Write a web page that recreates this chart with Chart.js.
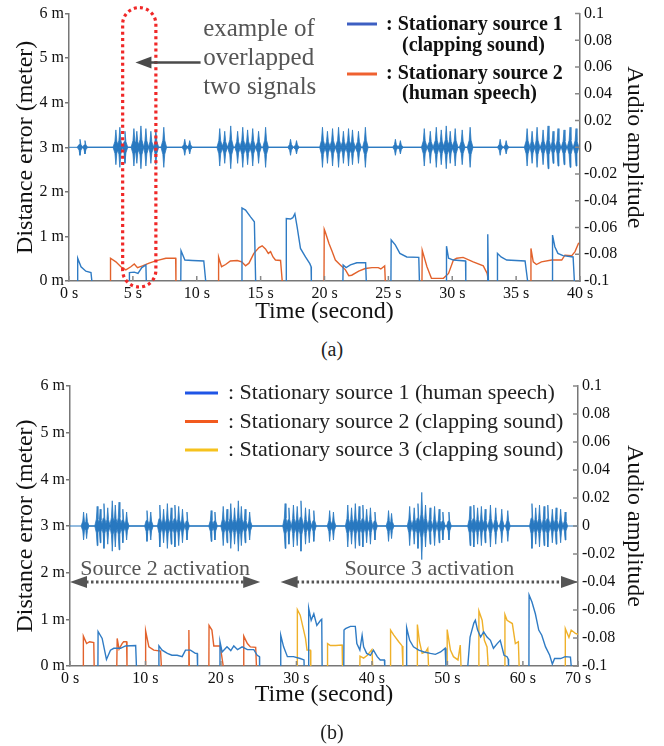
<!DOCTYPE html>
<html>
<head>
<meta charset="utf-8">
<script src="https://cdn.jsdelivr.net/npm/chart.js@4.4.1/dist/chart.umd.min.js"></script>
<style>
  html, body { margin: 0; padding: 0; background: #fff; }
  body { width: 664px; height: 746px; position: relative; overflow: hidden;
         font-family: 'Liberation Serif', 'Times New Roman', serif; }
  canvas { position: absolute; left: 0; }
  #chartA { top: 0; }
  #chartB { top: 372px; }
  .cap { position: absolute; left: 0; width: 664px; text-align: center;
         font-size: 20px; line-height: 24px; color: #222; }
</style>
</head>
<body>
<canvas id="chartA" width="664" height="330"></canvas>
<div class="cap" style="top:337px">(a)</div>
<canvas id="chartB" width="664" height="350"></canvas>
<div class="cap" style="top:720px">(b)</div>
<script>
const SERIF = "'Liberation Serif', 'Times New Roman', serif";
const BLUE = '#2f7bc4', ORANGE = '#e2622c', YELLOW = '#efb12a', WAVE = '#2878c0';

// ---------- (a) 40 s, two stationary sources ----------
const aTimeTicks = [0, 5, 10, 15, 20, 25, 30, 35, 40];
const aTimeLabels = ['0 s', '5 s', '10 s', '15 s', '20 s', '25 s', '30 s', '35 s', '40 s'];

// distance error segments [time s, error m]
const aBlue = [
  [[0.65, 0], [0.68, 0.51], [0.94, 0.32], [1.32, 0.22], [1.72, 0.19], [1.79, 0]],
  [[4.71, 0], [4.73, 0.19], [5.11, 0.2], [5.4, 0.17], [5.7, 0.3], [6.02, 0.36], [6.05, 0]],
  [[8.75, 0], [8.77, 0.68], [9.07, 0.47], [9.66, 0.46], [10.55, 0.45], [10.7, 0]],
  [[13.52, 0], [13.54, 1.64], [13.82, 1.59], [14.21, 1.44], [14.51, 1.33], [14.61, 0]],
  [[16.99, 0], [17.01, 1.4], [17.34, 1.39], [17.52, 1.42], [17.68, 1.51], [17.86, 1.21], [18.12, 0.73], [18.51, 0.54], [18.85, 0.39], [18.95, 0.32], [18.97, 0]],
  [[21.44, 0], [21.46, 0.36], [21.69, 0.3], [22.03, 0.36], [22.53, 0.41], [23.22, 0.41], [23.27, 0]],
  [[25.2, 0], [25.22, 0.92], [25.54, 0.81], [25.9, 0.62], [26.44, 0.54], [27.38, 0.53], [27.43, 0]],
  [[29.53, 0], [29.55, 0.78], [29.71, 0.51], [30.09, 0.47], [31.04, 0.45], [31.06, 0]],
  [[32.73, 0], [32.78, 1.05], [32.83, 0]],
  [[33.52, 0], [33.54, 0.62], [33.82, 0.54], [34.26, 0.47], [35.7, 0.45], [35.9, 0]],
  [[37.83, 0], [37.85, 1.03], [38.03, 0.77], [38.27, 0.62], [38.67, 0.57], [39.46, 0.54], [39.56, 0]]
];
const aOrange = [
  [[3.23, 0], [3.25, 0.51], [3.67, 0.43], [4.06, 0.32], [4.45, 0.25], [4.84, 0.32], [5.11, 0.38], [5.36, 0.3], [5.75, 0.34], [6.27, 0.4], [6.79, 0.45], [7.58, 0.51], [8.35, 0.51], [8.37, 0]],
  [[11.69, 0], [11.71, 0.54], [11.94, 0.32], [12.26, 0.37], [12.63, 0.45], [13.17, 0.46], [13.52, 0.43], [13.82, 0.34], [14.09, 0.4], [14.47, 0.62], [14.87, 0.75], [15.12, 0.79], [15.38, 0.72], [15.6, 0.62], [15.78, 0.66], [15.97, 0.54], [16.16, 0.47], [16.56, 0.46], [16.69, 0]],
  [[19.96, 0], [19.98, 1.16], [20.06, 1.1], [20.35, 0.84], [20.6, 0.66], [20.85, 0.47], [21.24, 0.36], [21.64, 0.25], [21.9, 0.12], [22.13, 0.13], [22.68, 0.22], [23.19, 0.28], [23.72, 0.3], [24.21, 0.3], [24.41, 0.27], [24.71, 0.34], [24.76, 0]],
  [[27.63, 0], [27.65, 0.69], [28.02, 0.32], [28.37, 0.06], [29.31, 0.06], [29.71, 0.17], [30.09, 0.47], [30.35, 0.51], [30.85, 0.53], [31.64, 0.43], [32.43, 0.34], [32.73, 0.17], [32.83, 0]],
  [[36.14, 0], [36.16, 0.73], [36.34, 0.43], [36.59, 0.37], [36.98, 0.43], [37.78, 0.47], [38.57, 0.47], [38.82, 0.58], [39.36, 0.57], [39.61, 0.66], [39.9, 0.86]]
];
// audio waveform: time and peak amplitude of each burst spike
const waveATime = [0.86, 1.25, 3.67, 3.98, 4.38, 5.08, 5.31, 5.63, 6.02, 6.41, 6.8, 7.42,
  9.06, 9.45, 11.8, 12.19, 12.66, 13.2, 13.6, 13.98, 14.38, 14.84, 15.39,
  17.34, 17.81, 19.84, 20.23, 20.63, 21.1, 21.48, 21.88, 22.19, 22.66, 23.2,
  25.55, 25.94, 27.81, 28.28, 28.75, 29.14, 29.53, 29.84, 30.23, 30.78, 31.4,
  33.75, 34.22, 35.86, 36.25, 36.64, 37.11, 37.5, 37.89, 38.28, 38.75, 39.22, 39.69];
const waveAAmp = [0.006, 0.005, 0.013, 0.015, 0.012, 0.014, 0.012, 0.016, 0.014, 0.012, 0.013, 0.015,
  0.006, 0.005, 0.014, 0.012, 0.016, 0.012, 0.015, 0.013, 0.014, 0.012, 0.015,
  0.006, 0.005, 0.015, 0.012, 0.014, 0.015, 0.012, 0.014, 0.013, 0.012, 0.015,
  0.006, 0.005, 0.014, 0.012, 0.015, 0.013, 0.016, 0.012, 0.014, 0.013, 0.015,
  0.006, 0.005, 0.014, 0.012, 0.015, 0.013, 0.016, 0.012, 0.014, 0.013, 0.015, 0.014];

// ---------- (b) ~67 s, three stationary sources ----------
const bTimeTicks = [0, 10, 20, 30, 40, 50, 60, 67.3];
const bTimeLabels = ['0 s', '10 s', '20 s', '30 s', '40 s', '50 s', '60 s', '70 s'];

const bBlue = [
  [[3.7, 0], [3.72, 0.74], [4.26, 0.59], [4.83, 0.14], [5.36, 0.34], [5.8, 0.38], [6.7, 0.38], [7.35, 0.43], [8.7, 0.44], [8.8, 0]],
  [[11.76, 0], [11.78, 0.43], [12.2, 0.34], [12.9, 0.27], [13.5, 0.23], [14.2, 0.23], [14.86, 0.2], [15.3, 0.34], [15.96, 0.34], [16.6, 0.27], [16.85, 0.27], [16.9, 0]],
  [[19.85, 0], [19.87, 0.52], [20.15, 0.3], [20.8, 0.41], [21.3, 0.33], [21.7, 0.43], [22.2, 0.35], [22.8, 0.41], [23.5, 0.35], [24.35, 0.35], [24.8, 0.23], [25.1, 0.2], [25.12, 0]],
  [[27.9, 0], [27.92, 0.66], [28.3, 0.41], [28.8, 0.2], [29.6, 0.2], [30.5, 0.16], [31.0, 0.13], [31.02, 0]],
  [[31.6, 0], [31.62, 1.24], [31.95, 0.98], [32.3, 1.12], [32.7, 0.87], [33.2, 0.98], [33.35, 1.0], [33.4, 0]],
  [[36.27, 0], [36.3, 0.77], [36.5, 0.8], [37.15, 0.85], [37.8, 0.85], [38.0, 0.48], [38.4, 0.34], [38.7, 0.66], [38.9, 0.41], [39.3, 0.27], [39.8, 0.23], [40.2, 0.34], [40.7, 0.2], [41.1, 0.13], [41.65, 0.13], [41.7, 0]],
  [[44.57, 0], [44.6, 0.82], [45.0, 0.55], [45.5, 0.41], [46.2, 0.34], [46.9, 0.3], [47.75, 0.27], [48.4, 0.25], [49.1, 0.3], [49.7, 0.38], [49.8, 0]],
  [[52.7, 0], [53.0, 0.62], [53.5, 0.92], [53.7, 0.98], [54.0, 0.77], [54.4, 0.62], [54.8, 0.73], [55.25, 0.62], [55.7, 0.55], [56.1, 0.38], [56.6, 0.48], [57.0, 0.55], [57.5, 0.23], [57.9, 0.2], [58.05, 0.15], [58.1, 0]],
  [[60.8, 0], [60.82, 1.52], [61.2, 1.37], [61.65, 1.12], [62.1, 0.77], [62.5, 0.66], [63.0, 0.41], [63.55, 0.23], [63.9, 0.04], [64.2, 0.16], [65.0, 0.16], [65.6, 0.2], [66.3, 0.19], [66.4, 0]]
];
const bOrange = [
  [[1.75, 0], [1.77, 0.64], [2.2, 0.48], [2.6, 0.52], [3.15, 0.5], [3.2, 0]],
  [[6.2, 0], [6.25, 0.59], [6.5, 0.36], [6.9, 0.48], [7.1, 0.52], [7.5, 0.52], [7.55, 0]],
  [[10.0, 0], [10.02, 0.75], [10.45, 0.41], [11.1, 0.34], [12.0, 0.32], [12.1, 0]],
  [[15.7, 0], [15.75, 0.77], [15.8, 0]],
  [[18.4, 0], [18.42, 0.87], [18.8, 0.77], [19.05, 0.43], [19.9, 0.43], [20.3, 0]],
  [[23.0, 0], [23.02, 0.64], [23.5, 0.48], [23.9, 0.41], [24.6, 0.4], [24.7, 0]]
];
const bYellow = [
  [[30.1, 0], [30.12, 1.21], [30.5, 1.09], [31.2, 0.59], [31.4, 0.34], [31.85, 0.34], [31.9, 0]],
  [[34.1, 0], [34.12, 0.48], [34.5, 0.44], [35.2, 0.44], [36.05, 0.45], [36.1, 0]],
  [[38.4, 0], [38.42, 0.21], [38.9, 0.17], [39.4, 0.23], [40.0, 0.35], [40.1, 0]],
  [[42.45, 0], [42.47, 0.77], [42.9, 0.66], [43.55, 0.52], [44.0, 0.43], [44.1, 0]],
  [[46.0, 0], [46.02, 0.89], [46.3, 0.52], [46.65, 0.27], [47.1, 0.3], [47.4, 0.38], [47.5, 0]],
  [[49.95, 0], [49.97, 0.78], [50.4, 0.34], [50.8, 0.2], [51.4, 0.13], [51.7, 0.45], [51.8, 0]],
  [[54.15, 0], [54.17, 1.18], [54.6, 0.98], [54.9, 0.55], [55.25, 0.41], [55.4, 0]],
  [[57.6, 0], [57.62, 1.1], [57.9, 0.98], [58.6, 0.91], [59.0, 0.48], [59.4, 0.52], [59.5, 0]],
  [[65.6, 0], [65.62, 0.8], [66.1, 0.61], [66.4, 0.77], [66.95, 0.7], [67.3, 0.68]]
];
const waveBTime = [1.8, 2.2, 3.6, 4.0, 4.5, 5.0, 5.6, 6.0, 6.5, 7.0, 7.5, 10.2, 10.7,
  11.9, 12.4, 12.9, 13.4, 13.9, 14.4, 14.9, 15.5, 18.7, 19.2,
  20.3, 20.8, 21.3, 21.8, 22.3, 22.7, 23.2, 23.8,
  28.5, 29.0, 29.6, 30.1, 30.6, 31.2, 31.7, 32.3, 34.4, 34.9,
  36.8, 37.3, 37.8, 38.3, 38.8, 39.3, 39.8, 40.4, 42.2, 42.6,
  45.0, 45.6, 46.1, 46.6, 47.1, 47.7, 48.3, 48.9, 49.4, 50.2,
  53.0, 53.5, 54.0, 54.5, 55.0, 55.7, 56.4, 57.2, 58.0,
  61.2, 61.7, 62.2, 62.8, 63.3, 63.9, 64.4, 65.0, 65.6];
const waveBAmp = [0.010, 0.009, 0.014, 0.012, 0.016, 0.013, 0.018, 0.015, 0.017, 0.012, 0.010, 0.011, 0.010,
  0.015, 0.012, 0.016, 0.013, 0.015, 0.014, 0.012, 0.010, 0.011, 0.010,
  0.014, 0.012, 0.016, 0.013, 0.018, 0.014, 0.012, 0.010,
  0.016, 0.013, 0.015, 0.014, 0.018, 0.013, 0.012, 0.011, 0.011, 0.010,
  0.015, 0.013, 0.016, 0.014, 0.015, 0.012, 0.013, 0.010, 0.011, 0.009,
  0.014, 0.013, 0.016, 0.024, 0.015, 0.013, 0.014, 0.012, 0.010, 0.010,
  0.014, 0.015, 0.013, 0.014, 0.012, 0.015, 0.013, 0.012, 0.011,
  0.016, 0.013, 0.015, 0.014, 0.015, 0.012, 0.013, 0.012, 0.010];

// segments -> one point list with gaps between segments
function segPoints(segs) {
  const pts = [];
  segs.forEach((seg, i) => {
    if (i > 0) pts.push({ x: seg[0][0], y: null });
    seg.forEach(([x, y]) => pts.push({ x, y }));
  });
  return pts;
}

// each burst spike drawn as a thin filled spike above / below zero
function wavePoints(times, amps, w, sign) {
  const pts = [];
  times.forEach((t, i) => {
    const a = sign * amps[i];
    pts.push({ x: t - w, y: 0 }, { x: t - w / 3, y: a * 0.35 }, { x: t, y: a },
             { x: t + w / 3, y: a * 0.35 }, { x: t + w, y: 0 });
  });
  return pts;
}

const lineSet = (label, segs, color) => ({
  label, data: segPoints(segs), borderColor: color, borderWidth: 1.4,
  pointRadius: 0, spanGaps: false, fill: false, yAxisID: 'y'
});
const waveSets = (times, amps, w, xMax) => [
  { data: wavePoints(times, amps, w, 1), borderColor: WAVE, backgroundColor: WAVE, borderWidth: 0.8, pointRadius: 0, fill: 'origin', yAxisID: 'y1' },
  { data: wavePoints(times, amps, w, -1), borderColor: WAVE, backgroundColor: WAVE, borderWidth: 0.8, pointRadius: 0, fill: 'origin', yAxisID: 'y1' },
  { data: [{ x: 0, y: 0 }, { x: xMax, y: 0 }], borderColor: WAVE, borderWidth: 1, pointRadius: 0, fill: false, yAxisID: 'y1' }
];

const ampLabel = v => String(parseFloat(Number(v).toFixed(2)));

// small tick marks pointing into the plot for the time axis and the audio axis
const innerTicks = {
  id: 'innerTicks',
  afterDraw(chart) {
    const { ctx, chartArea, scales: { x, y1 } } = chart;
    ctx.save();
    ctx.strokeStyle = '#888';
    ctx.lineWidth = 1.5;
    ctx.beginPath();
    x.ticks.forEach(t => {
      const px = x.getPixelForValue(t.value);
      ctx.moveTo(px, chartArea.bottom);
      ctx.lineTo(px, chartArea.bottom - 5);
    });
    y1.ticks.forEach(t => {
      const py = y1.getPixelForValue(t.value);
      ctx.moveTo(chartArea.right, py);
      ctx.lineTo(chartArea.right - 5, py);
    });
    ctx.stroke();
    ctx.restore();
  }
};

function arrowHead(ctx, tipX, y, dir, len, half) {
  ctx.beginPath();
  ctx.moveTo(tipX, y);
  ctx.lineTo(tipX + dir * len, y - half);
  ctx.lineTo(tipX + dir * len, y + half);
  ctx.closePath();
  ctx.fill();
}

function makeOptions(cfg) {
  const tickFont = { family: SERIF, size: 16 };
  const titleFont = { family: SERIF, size: 24, lineHeight: 1 };
  return {
    responsive: false,
    animation: false,
    layout: { padding: { top: cfg.top, left: 0, right: 0, bottom: 0 } },
    plugins: { legend: { display: false }, tooltip: { enabled: false } },
    elements: { line: { tension: 0 } },
    scales: {
      x: {
        type: 'linear', min: 0, max: cfg.xMax,
        afterBuildTicks: s => { s.ticks = cfg.xTicks.map(v => ({ value: v })); },
        ticks: { callback: (v, i) => cfg.xLabels[i], font: tickFont, color: '#111', padding: 3, maxRotation: 0, autoSkip: false },
        grid: { display: false, drawTicks: false },
        border: { display: true, color: '#777', width: 1.5 },
        title: { display: true, text: 'Time (second)', font: titleFont, color: '#111', padding: { top: 0, bottom: cfg.xTitlePad } },
        afterFit: s => { s.height = cfg.xHeight; }
      },
      y: {
        position: 'left', min: 0, max: 6,
        ticks: { stepSize: 1, callback: v => v + ' m', font: tickFont, color: '#111', padding: 1 },
        grid: { display: true, drawOnChartArea: false, drawTicks: true, tickLength: 4, color: '#777', lineWidth: 1.5 },
        border: { display: true, color: '#777', width: 1.5 },
        title: { display: true, text: 'Distance error (meter)', font: titleFont, color: '#111', padding: { top: 14, bottom: 0 } },
        afterFit: s => { s.width = cfg.leftW; }
      },
      y1: {
        position: 'right', min: -0.1, max: 0.1,
        ticks: { stepSize: 0.02, callback: ampLabel, font: tickFont, color: '#111', padding: 4 },
        grid: { display: false, drawTicks: false },
        border: { display: true, color: '#777', width: 1.5 },
        title: { display: true, text: 'Audio amplitude', font: titleFont, color: '#111', padding: { top: 18, bottom: 0 } },
        afterFit: s => { s.width = cfg.rightW; }
      }
    }
  };
}

// ---------- chart (a) ----------
const overlapBox = [4.2, 6.8];   // seconds covered by the red dotted box
const annotateA = {
  id: 'annotateA',
  afterDraw(chart) {
    const { ctx, chartArea, scales: { x, y } } = chart;
    ctx.save();
    // red dotted rounded box
    const x0 = x.getPixelForValue(overlapBox[0]), x1 = x.getPixelForValue(overlapBox[1]);
    const top = chartArea.top - 6, bottom = chartArea.bottom + 6, r = (x1 - x0) / 2;
    ctx.strokeStyle = '#f02828';
    ctx.lineWidth = 3.2;
    ctx.setLineDash([3, 3.2]);
    ctx.beginPath();
    ctx.moveTo(x0, bottom - r);
    ctx.lineTo(x0, top + r);
    ctx.arc(x0 + r, top + r, r, Math.PI, 0);
    ctx.lineTo(x1, bottom - r);
    ctx.arc(x0 + r, bottom - r, r, 0, Math.PI);
    ctx.stroke();
    ctx.setLineDash([]);
    // gray arrow pointing at the box
    const ay = y.getPixelForValue(4.9);
    const tip = x.getPixelForValue(5.2), tail = x.getPixelForValue(10.3);
    ctx.strokeStyle = '#4a4a4a';
    ctx.fillStyle = '#4a4a4a';
    ctx.lineWidth = 2.5;
    ctx.beginPath();
    ctx.moveTo(tail, ay);
    ctx.lineTo(tip + 12, ay);
    ctx.stroke();
    arrowHead(ctx, tip, ay, 1, 16, 6);
    // note text
    ctx.fillStyle = '#555';
    ctx.font = `25px ${SERIF}`;
    ctx.textAlign = 'left';
    ctx.textBaseline = 'alphabetic';
    const tx = x.getPixelForValue(10.5);
    ctx.fillText('example of', tx, 36);
    ctx.fillText('overlapped', tx, 65);
    ctx.fillText('two signals', tx, 94);
    // legend
    ctx.lineWidth = 3;
    ctx.strokeStyle = '#3d5fc2';
    ctx.beginPath(); ctx.moveTo(347, 24); ctx.lineTo(377, 24); ctx.stroke();
    ctx.strokeStyle = '#ef6130';
    ctx.beginPath(); ctx.moveTo(347, 74); ctx.lineTo(377, 74); ctx.stroke();
    ctx.fillStyle = '#111';
    ctx.font = `bold 20px ${SERIF}`;
    ctx.fillText(': Stationary source 1', 386, 30);
    ctx.fillText('(clapping sound)', 402, 51);
    ctx.fillText(': Stationary source 2', 386, 79);
    ctx.fillText('(human speech)', 402, 99);
    ctx.restore();
  }
};

new Chart(document.getElementById('chartA'), {
  type: 'line',
  data: {
    datasets: [
      lineSet('Stationary source 1', aBlue, BLUE),
      lineSet('Stationary source 2', aOrange, ORANGE),
      ...waveSets(waveATime, waveAAmp, 0.22, 40)
    ]
  },
  options: makeOptions({ top: 13, xMax: 40, xTicks: aTimeTicks, xLabels: aTimeLabels, xHeight: 49, xTitlePad: 6, leftW: 69, rightW: 84 }),
  plugins: [innerTicks, annotateA]
});

// ---------- chart (b) ----------
const activations = [
  { text: 'Source 2 activation', from: 0, to: 25.2 },
  { text: 'Source 3 activation', from: 27.9, to: 67.3 }
];
const annotateB = {
  id: 'annotateB',
  afterDraw(chart) {
    const { ctx, scales: { x, y } } = chart;
    ctx.save();
    const ay = y.getPixelForValue(1.8);
    ctx.fillStyle = '#555';
    ctx.strokeStyle = '#555';
    activations.forEach(a => {
      const x0 = x.getPixelForValue(a.from), x1 = x.getPixelForValue(a.to);
      ctx.lineWidth = 3;
      ctx.setLineDash([2.5, 2.5]);
      ctx.beginPath();
      ctx.moveTo(x0 + 16, ay);
      ctx.lineTo(x1 - 16, ay);
      ctx.stroke();
      ctx.setLineDash([]);
      arrowHead(ctx, x0, ay, 1, 17, 6);
      arrowHead(ctx, x1, ay, -1, 17, 6);
      ctx.font = `22px ${SERIF}`;
      ctx.textAlign = 'center';
      ctx.fillText(a.text, (x0 + x1) / 2, ay - 7);
    });
    // legend
    const items = [
      ['#1f55e6', ': Stationary source 1 (human speech)'],
      ['#f25a1e', ': Stationary source 2 (clapping sound)'],
      ['#f6c21d', ': Stationary source 3 (clapping sound)']
    ];
    ctx.textAlign = 'left';
    ctx.font = `22px ${SERIF}`;
    items.forEach(([c, t], i) => {
      const ly = 21 + i * 28.5;
      ctx.strokeStyle = c;
      ctx.lineWidth = 3;
      ctx.beginPath(); ctx.moveTo(185, ly); ctx.lineTo(218, ly); ctx.stroke();
      ctx.fillStyle = '#222';
      ctx.fillText(t, 228, ly + 6);
    });
    ctx.restore();
  }
};

new Chart(document.getElementById('chartB'), {
  type: 'line',
  data: {
    datasets: [
      lineSet('Stationary source 1', bBlue, BLUE),
      lineSet('Stationary source 2', bOrange, ORANGE),
      lineSet('Stationary source 3', bYellow, YELLOW),
      ...waveSets(waveBTime, waveBAmp, 0.32, 67.3)
    ]
  },
  options: makeOptions({ top: 14, xMax: 67.3, xTicks: bTimeTicks, xLabels: bTimeLabels, xHeight: 56, xTitlePad: 15, leftW: 70, rightW: 86 }),
  plugins: [innerTicks, annotateB]
});
</script>
</body>
</html>
